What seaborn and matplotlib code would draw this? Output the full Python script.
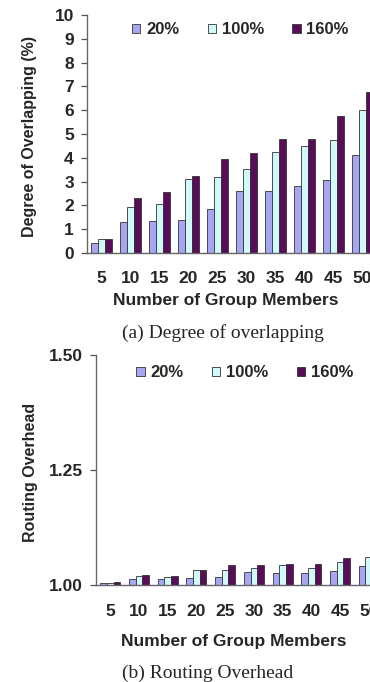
import pandas as pd
import numpy as np
import seaborn as sns
import matplotlib
matplotlib.use('Agg')
import matplotlib.pyplot as plt

# group sizes and the three settings
members = ['5', '10', '15', '20', '25', '30', '35', '40', '45', '50']
settings = ['20%', '100%', '160%']

# (a) degree of overlapping (%)
overlap_20 = [0.4, 1.3, 1.35, 1.4, 1.85, 2.6, 2.6, 2.8, 3.05, 4.1]
overlap_100 = [0.6, 1.95, 2.05, 3.1, 3.2, 3.55, 4.25, 4.5, 4.75, 6.0]
overlap_160 = [0.6, 2.3, 2.55, 3.25, 3.95, 4.2, 4.8, 4.8, 5.75, 6.75]

# (b) routing overhead
overhead_20 = [1.005, 1.012, 1.012, 1.015, 1.018, 1.028, 1.026, 1.026, 1.031, 1.042]
overhead_100 = [1.004, 1.020, 1.017, 1.032, 1.032, 1.038, 1.043, 1.036, 1.049, 1.061]
overhead_160 = [1.006, 1.022, 1.019, 1.032, 1.043, 1.043, 1.045, 1.045, 1.058, 1.069]

colors = ['#9999ff', '#ccffff', '#660066']


def long_df(a, b, c):
    rows = []
    for s, vals in zip(settings, [a, b, c]):
        for m, v in zip(members, vals):
            rows.append({'members': m, 'setting': s, 'value': v})
    return pd.DataFrame(rows)


sns.set_style('white')
plt.rcParams['font.family'] = ['Liberation Sans', 'DejaVu Sans']
plt.rcParams['font.weight'] = 'bold'

W, H = 370, 682
fig = plt.figure(figsize=(W / 100, H / 100), dpi=100)
# axes placed in pixel terms (left, top, right, bottom)
ax1 = fig.add_axes([87 / W, 1 - 253 / H, 290 / W, 238 / H])
ax2 = fig.add_axes([96 / W, 1 - 585 / H, 287 / W, 230 / H])


def style_axis(ax, df, ylim, yticks, ytl, ylabel, xpad, xlab_y, ylab_x, leg_xy):
    sns.barplot(data=df, x='members', y='value', hue='setting', palette=colors,
                width=0.7, edgecolor='#333333', linewidth=0.6, ax=ax)
    ax.set_ylim(*ylim)
    ax.set_yticks(yticks)
    ax.set_yticklabels(ytl, fontsize=12.5, fontweight='bold')
    ax.set_xlim(-0.5, 9.5)
    for lab in ax.get_xticklabels():
        lab.set_fontsize(12.5)
        lab.set_fontweight('bold')
    ax.tick_params(axis='x', length=0, pad=xpad)
    ax.tick_params(axis='y', length=4.5, width=0.9, color='#555555', pad=5, left=True)
    ax.set_xlabel('Number of Group Members', fontsize=12.5, fontweight='bold')
    ax.xaxis.set_label_coords(0.48, xlab_y)
    ax.set_ylabel(ylabel, fontsize=11.5, fontweight='bold')
    ax.yaxis.set_label_coords(ylab_x, 0.49)
    for side in ['top', 'right']:
        ax.spines[side].set_visible(False)
    for side in ['left', 'bottom']:
        ax.spines[side].set_color('#666666')
        ax.spines[side].set_linewidth(1.0)
    handles, labels = ax.get_legend_handles_labels()
    ax.legend(handles, labels, ncol=3, frameon=False, loc='center left',
              bbox_to_anchor=leg_xy, handlelength=0.5, handleheight=0.5,
              handletextpad=0.35, columnspacing=1.7, borderaxespad=0, borderpad=0,
              prop={'size': 12, 'weight': 'bold'})


style_axis(ax1, long_df(overlap_20, overlap_100, overlap_160), (0, 10),
           range(0, 11), [str(i) for i in range(11)], 'Degree of Overlapping (%)',
           xpad=13, xlab_y=-0.168, ylab_x=-0.172, leg_xy=(0.155, 0.937))
style_axis(ax2, long_df(overhead_20, overhead_100, overhead_160), (1.0, 1.5),
           [1.0, 1.25, 1.5], ['1.00', '1.25', '1.50'], 'Routing Overhead',
           xpad=14, xlab_y=-0.213, ylab_x=-0.202, leg_xy=(0.14, 0.922))

fig.text(122 / W, 1 - 338 / H, '(a) Degree of overlapping', ha='left', va='baseline',
         fontsize=14, family='Liberation Serif', fontweight='normal')
fig.text(122 / W, 1 - 678 / H, '(b) Routing Overhead', ha='left', va='baseline',
         fontsize=14, family='Liberation Serif', fontweight='normal')

fig.savefig('out.png', dpi=100)
